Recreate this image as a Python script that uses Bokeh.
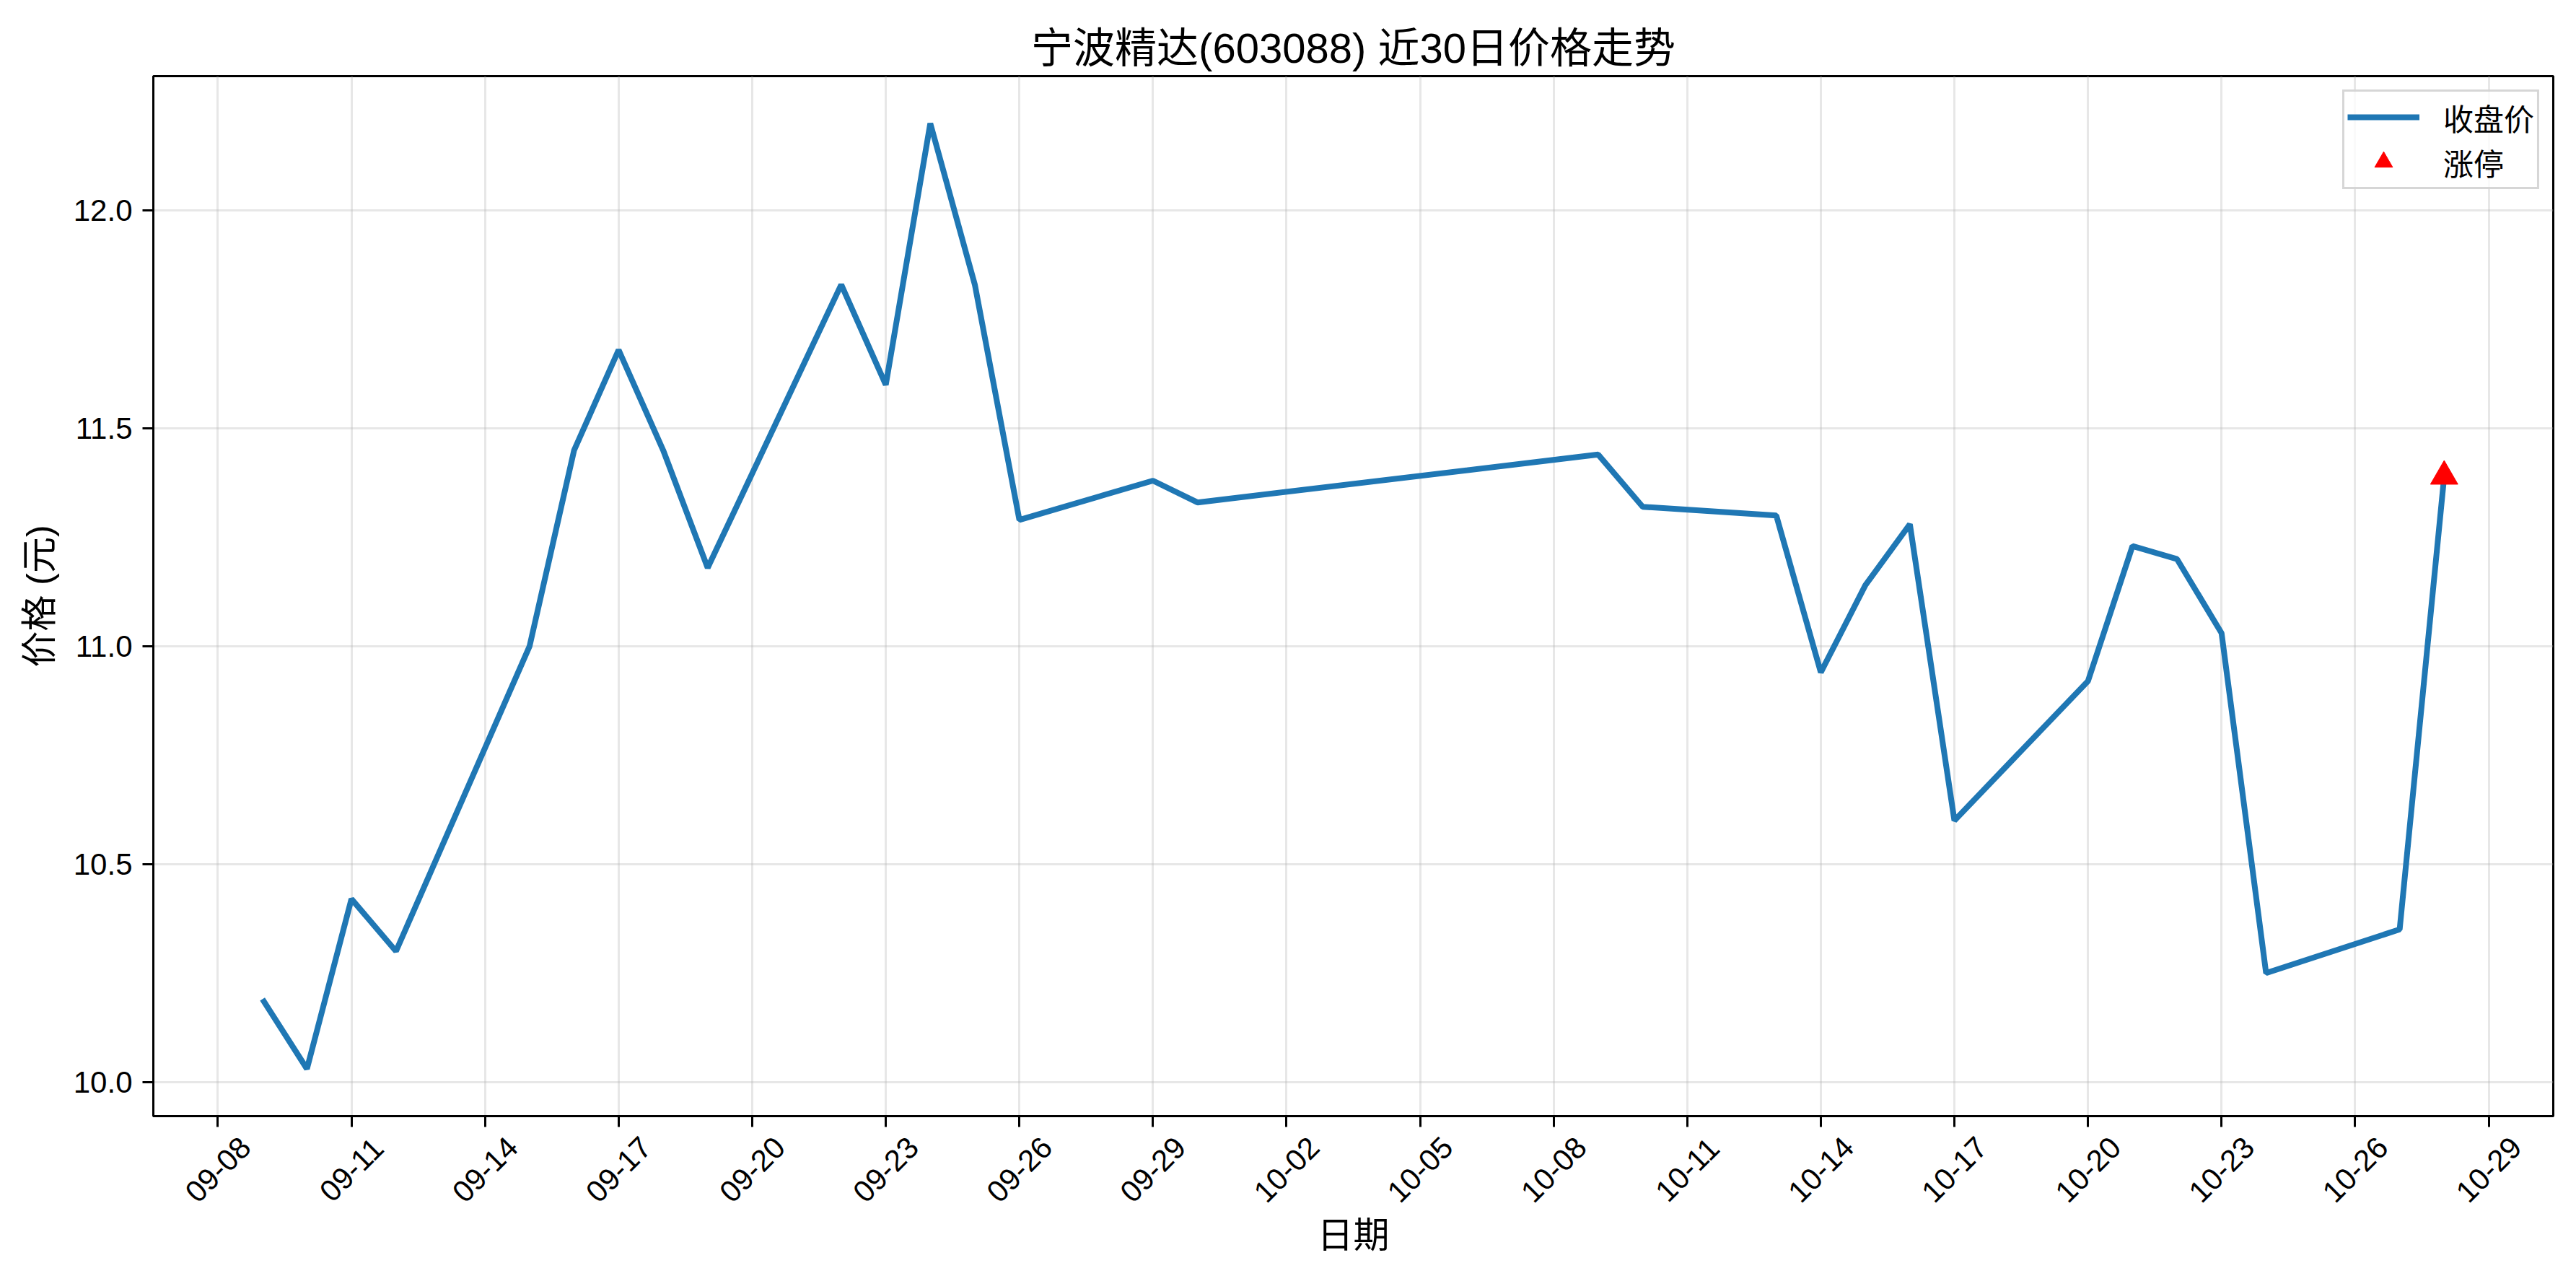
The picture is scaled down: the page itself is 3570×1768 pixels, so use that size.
import pandas as pd
from math import pi
from bokeh.plotting import figure
from bokeh.layouts import column
from bokeh.models import Range1d, FixedTicker, NumeralTickFormatter, ColumnDataSource
from bokeh.core.properties import value
from bokeh.embed import file_html
from bokeh.resources import INLINE

# ---- data ----
dates = ["2025-09-09", "2025-09-10", "2025-09-11", "2025-09-12", "2025-09-15",
         "2025-09-16", "2025-09-17", "2025-09-18", "2025-09-19", "2025-09-22",
         "2025-09-23", "2025-09-24", "2025-09-25", "2025-09-26", "2025-09-29",
         "2025-09-30", "2025-10-09", "2025-10-10", "2025-10-13", "2025-10-14",
         "2025-10-15", "2025-10-16", "2025-10-17", "2025-10-20", "2025-10-21",
         "2025-10-22", "2025-10-23", "2025-10-24", "2025-10-27", "2025-10-28"]
close = [10.19, 10.03, 10.42, 10.30, 11.00,
         11.45, 11.68, 11.45, 11.18, 11.83,
         11.60, 12.20, 11.83, 11.29, 11.38,
         11.33, 11.44, 11.32, 11.30, 10.94,
         11.14, 11.28, 10.60, 10.92, 11.23,
         11.20, 11.03, 10.25, 10.35, 11.39]
limit_up_dates = ["2025-10-28"]
limit_up_close = [11.39]
x_tick_dates = ["2025-09-08", "2025-09-11", "2025-09-14", "2025-09-17", "2025-09-20",
                "2025-09-23", "2025-09-26", "2025-09-29", "2025-10-02", "2025-10-05",
                "2025-10-08", "2025-10-11", "2025-10-14", "2025-10-17", "2025-10-20",
                "2025-10-23", "2025-10-26", "2025-10-29"]
x_tick_labels = ["09-08", "09-11", "09-14", "09-17", "09-20", "09-23", "09-26",
                 "09-29", "10-02", "10-05", "10-08", "10-11", "10-14", "10-17",
                 "10-20", "10-23", "10-26", "10-29"]
y_ticks = [10.0, 10.5, 11.0, 11.5, 12.0]

title_text = "宁波精达(603088) 近30日价格走势"
x_label = "日期"
y_label = "价格 (元)"
line_label = "收盘价"
marker_label = "涨停"

FONT = "'Liberation Sans', 'Noto Sans CJK SC'"

W, H = 3554, 1752
BL, BR, BT = 212, 16, 105
FRAME_H = 1441
TICK_BORDER = 20
H1 = BT + FRAME_H + TICK_BORDER          # main figure height
H2 = H - H1                              # strip below holding the date labels


def ms(d):
    return pd.Timestamp(d).timestamp() * 1000.0


x = pd.to_datetime(dates)
xl = pd.to_datetime(limit_up_dates)

x0, x1 = ms(dates[0]), ms(dates[-1])
xm = (x1 - x0) * 0.05
y0, y1 = min(close), max(close)
ym = (y1 - y0) * 0.05
xr = Range1d(x0 - xm, x1 + xm)

p = figure(width=W, height=H1, x_axis_type="datetime",
           output_backend="svg", toolbar_location=None,
           x_range=xr, y_range=Range1d(y0 - ym, y1 + ym),
           min_border_left=BL, min_border_right=BR,
           min_border_top=BT, min_border_bottom=TICK_BORDER)

p.line(x, close, line_color="#1f77b4", line_width=8, legend_label=line_label)
p.scatter(xl, limit_up_close, marker="triangle", size=38, fill_color="red",
          line_color="red", legend_label=marker_label)

# title
p.title.text = title_text
p.title.align = "center"
p.title.text_font = FONT
p.title.text_font_size = "58px"
p.title.text_font_style = "normal"
p.title.text_color = "black"
p.title.standoff = 14

# axes
p.xaxis.ticker = FixedTicker(ticks=[ms(d) for d in x_tick_dates])
p.xaxis.major_label_text_color = None
p.xaxis.major_label_standoff = 0
p.yaxis.ticker = FixedTicker(ticks=y_ticks)
p.yaxis.formatter = NumeralTickFormatter(format="0.0")

for ax in (p.xaxis, p.yaxis):
    ax.axis_line_color = "black"
    ax.axis_line_width = 3
    ax.major_tick_line_color = "black"
    ax.major_tick_line_width = 3
    ax.major_tick_out = 15
    ax.major_tick_in = 0
    ax.minor_tick_line_color = None
    ax.major_label_text_font = FONT
    ax.major_label_text_font_size = "42px"
    ax.axis_label_text_font = FONT
    ax.axis_label_text_font_size = "50px"
    ax.axis_label_text_font_style = "normal"
    ax.axis_label_text_color = "black"

p.yaxis.major_label_text_color = "black"
p.yaxis.major_label_standoff = 14
p.yaxis.axis_label = y_label
p.yaxis.axis_label_standoff = 16

p.outline_line_color = "black"
p.outline_line_width = 3
p.outline_line_alpha = 1.0

p.grid.grid_line_color = "#b0b0b0"
p.grid.grid_line_alpha = 0.3
p.grid.grid_line_width = 3

# legend
lg = p.legend[0]
lg.location = "top_right"
lg.margin = 19
lg.padding = 4
lg.spacing = 0
lg.glyph_width = 100
lg.glyph_height = 62
lg.label_standoff = 33
lg.label_height = 42
lg.label_text_font = FONT
lg.label_text_font_size = "42px"
lg.label_text_color = "black"
lg.border_line_color = "#cccccc"
lg.border_line_width = 3
lg.border_line_alpha = 0.8
lg.background_fill_color = "white"
lg.background_fill_alpha = 0.8

# ---- strip below: date tick labels centred under ticks, and the x-axis title ----
p2 = figure(width=W, height=H2, output_backend="svg", toolbar_location=None,
            x_range=xr, y_range=Range1d(0, H2),
            min_border_left=BL, min_border_right=BR,
            min_border_top=0, min_border_bottom=0)
p2.axis.visible = False
p2.grid.visible = False
p2.outline_line_color = None

lab_src = ColumnDataSource(dict(x=[ms(d) for d in x_tick_dates], text=x_tick_labels,
                                y=[H2 - 54] * len(x_tick_dates)))
p2.text(x="x", y="y", text="text", source=lab_src, angle=pi / 4,
        text_align="center", text_baseline="middle",
        text_font=value(FONT), text_font_size="42px", text_color="black")

p2.text(x=[(x0 + x1) / 2], y=[H2 - 145], text=[x_label],
        text_align="center", text_baseline="middle",
        text_font=value(FONT), text_font_size="50px", text_color="black")

layout = column(p, p2, spacing=0)
open("out.html", "w").write(file_html(layout, INLINE))
